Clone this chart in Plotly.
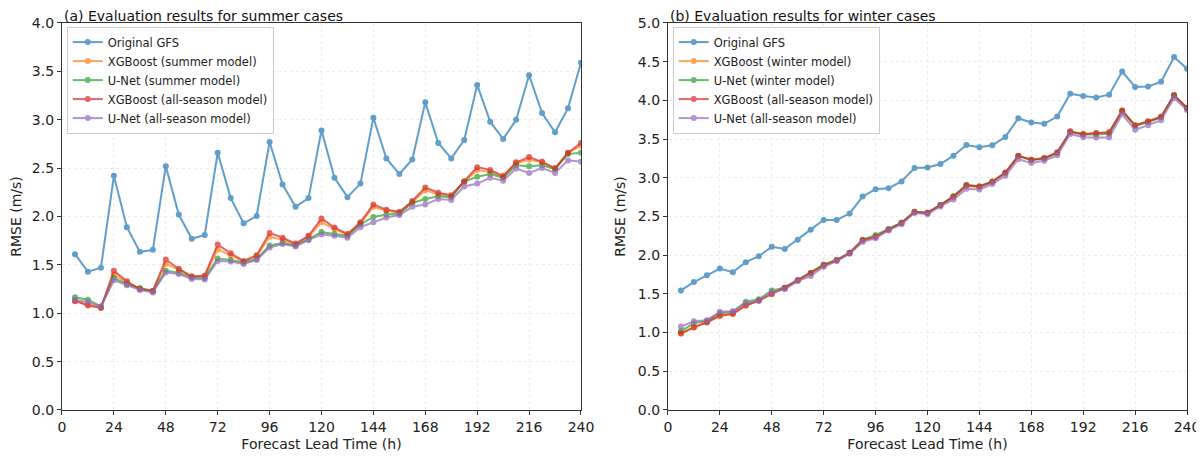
import plotly.graph_objects as go

hours = [6, 12, 18, 24, 30, 36, 42, 48, 54, 60, 66, 72, 78, 84, 90, 96, 102, 108, 114, 120,
         126, 132, 138, 144, 150, 156, 162, 168, 174, 180, 186, 192, 198, 204, 210, 216, 222, 228, 234, 240]
x_ticks = [0, 24, 48, 72, 96, 120, 144, 168, 192, 216, 240]

# ---- summer ----
summer_gfs = [1.61, 1.43, 1.47, 2.42, 1.89, 1.635, 1.655, 2.52, 2.02, 1.77, 1.81, 2.66, 2.19, 1.93, 2.005, 2.77,
              2.33, 2.10, 2.19, 2.89, 2.40, 2.20, 2.34, 3.02, 2.60, 2.44, 2.59, 3.18, 2.76, 2.60, 2.79, 3.36,
              2.98, 2.80, 3.00, 3.46, 3.07, 2.87, 3.12, 3.59]
summer_xgb_season = [1.13, 1.09, 1.06, 1.40, 1.32, 1.25, 1.23, 1.51, 1.45, 1.38, 1.38, 1.66, 1.60, 1.53, 1.59, 1.79,
                     1.76, 1.71, 1.79, 1.94, 1.87, 1.81, 1.93, 2.10, 2.06, 2.04, 2.15, 2.27, 2.23, 2.21, 2.36, 2.48,
                     2.46, 2.41, 2.55, 2.59, 2.56, 2.49, 2.66, 2.73]
summer_unet_season = [1.165, 1.14, 1.07, 1.365, 1.30, 1.26, 1.23, 1.44, 1.42, 1.37, 1.365, 1.565, 1.55, 1.525, 1.56, 1.70,
                      1.725, 1.70, 1.765, 1.84, 1.82, 1.80, 1.92, 1.995, 2.02, 2.03, 2.14, 2.18, 2.21, 2.20, 2.36, 2.41,
                      2.44, 2.40, 2.53, 2.52, 2.53, 2.49, 2.645, 2.66]
summer_xgb_all = [1.125, 1.08, 1.055, 1.44, 1.33, 1.25, 1.23, 1.555, 1.46, 1.38, 1.39, 1.71, 1.62, 1.54, 1.60, 1.83,
                  1.78, 1.72, 1.80, 1.98, 1.885, 1.82, 1.94, 2.125, 2.07, 2.05, 2.16, 2.30, 2.245, 2.22, 2.365, 2.51,
                  2.48, 2.42, 2.56, 2.615, 2.565, 2.50, 2.66, 2.76]
summer_unet_all = [1.14, 1.115, 1.07, 1.34, 1.29, 1.24, 1.215, 1.42, 1.405, 1.355, 1.35, 1.54, 1.535, 1.51, 1.55, 1.68,
                   1.715, 1.69, 1.755, 1.815, 1.80, 1.78, 1.89, 1.94, 1.99, 2.015, 2.10, 2.125, 2.18, 2.17, 2.31, 2.34,
                   2.40, 2.37, 2.495, 2.45, 2.50, 2.45, 2.58, 2.565]

# ---- winter ----
winter_gfs = [1.545, 1.653, 1.74, 1.827, 1.78, 1.91, 1.987, 2.108, 2.08, 2.20, 2.33, 2.455, 2.455, 2.54, 2.757, 2.853,
              2.866, 2.952, 3.126, 3.134, 3.178, 3.286, 3.424, 3.394, 3.42, 3.528, 3.77, 3.714, 3.697, 3.792, 4.087,
              4.056, 4.039, 4.074, 4.372, 4.173, 4.18, 4.24, 4.56, 4.41]
winter_xgb_season = [0.985, 1.065, 1.13, 1.215, 1.24, 1.35, 1.41, 1.50, 1.575, 1.67, 1.765, 1.865, 1.93, 2.025, 2.19, 2.235,
                     2.33, 2.415, 2.555, 2.545, 2.645, 2.75, 2.895, 2.88, 2.945, 3.065, 3.28, 3.23, 3.25, 3.325, 3.595,
                     3.56, 3.575, 3.585, 3.865, 3.675, 3.725, 3.785, 4.06, 3.90]
winter_unet_season = [1.02, 1.12, 1.15, 1.25, 1.27, 1.40, 1.43, 1.545, 1.58, 1.68, 1.77, 1.88, 1.94, 2.03, 2.20, 2.26,
                      2.34, 2.42, 2.56, 2.55, 2.65, 2.76, 2.91, 2.89, 2.95, 3.06, 3.28, 3.23, 3.25, 3.32, 3.59,
                      3.56, 3.56, 3.57, 3.86, 3.67, 3.72, 3.78, 4.07, 3.90]
winter_xgb_all = [0.99, 1.07, 1.134, 1.22, 1.243, 1.35, 1.415, 1.50, 1.58, 1.675, 1.77, 1.87, 1.935, 2.03, 2.195, 2.238,
                  2.333, 2.42, 2.56, 2.55, 2.65, 2.757, 2.90, 2.887, 2.952, 3.07, 3.286, 3.234, 3.255, 3.33, 3.60,
                  3.567, 3.58, 3.59, 3.87, 3.68, 3.73, 3.79, 4.065, 3.905]
winter_unet_all = [1.078, 1.147, 1.16, 1.27, 1.275, 1.38, 1.41, 1.52, 1.56, 1.665, 1.73, 1.85, 1.925, 2.02, 2.17, 2.22,
                   2.32, 2.40, 2.545, 2.53, 2.63, 2.72, 2.857, 2.85, 2.92, 3.025, 3.24, 3.19, 3.22, 3.29, 3.567,
                   3.524, 3.52, 3.52, 3.82, 3.62, 3.68, 3.745, 4.03, 3.875]

colors = ["#1f77b4", "#ff7f0e", "#2ca02c", "#d62728", "#9467bd"]

summer_series = [
    ("Original GFS", summer_gfs),
    ("XGBoost (summer model)", summer_xgb_season),
    ("U-Net (summer model)", summer_unet_season),
    ("XGBoost (all-season model)", summer_xgb_all),
    ("U-Net (all-season model)", summer_unet_all),
]
winter_series = [
    ("Original GFS", winter_gfs),
    ("XGBoost (winter model)", winter_xgb_season),
    ("U-Net (winter model)", winter_unet_season),
    ("XGBoost (all-season model)", winter_xgb_all),
    ("U-Net (all-season model)", winter_unet_all),
]

FONT = "DejaVu Sans"
fig = go.Figure()

for i, (name, vals) in enumerate(summer_series):
    fig.add_trace(go.Scatter(x=hours, y=vals, name=name, mode="lines+markers",
                             line=dict(color=colors[i], width=2), marker=dict(size=6, color=colors[i]),
                             opacity=0.7, xaxis="x", yaxis="y", legend="legend"))
for i, (name, vals) in enumerate(winter_series):
    fig.add_trace(go.Scatter(x=hours, y=vals, name=name, mode="lines+markers",
                             line=dict(color=colors[i], width=2), marker=dict(size=6, color=colors[i]),
                             opacity=0.7, xaxis="x2", yaxis="y2", legend="legend2"))

# the page body has an 8px margin, so the figure is drawn 8px smaller and offset
W, H = 1196, 449
xdom1 = [0.04515, 0.4791]
xdom2 = [0.5518, 0.9858]
ydom = [0.1047, 0.9666]
axis_common = dict(showline=True, linecolor="#333333", linewidth=1.2, mirror=True,
                   ticks="outside", ticklen=4, tickcolor="#333333", tickwidth=1,
                   showgrid=True, gridcolor="#ececec", griddash="dot", gridwidth=1,
                   zeroline=False, automargin=False,
                   tickfont=dict(family=FONT, size=14, color="#222222"))
title_font = dict(family=FONT, size=14, color="#222222")
legend_common = dict(xanchor="left", yanchor="top",
                     bgcolor="rgba(255,255,255,0.8)", bordercolor="#cccccc", borderwidth=1,
                     font=dict(family=FONT, size=11.5, color="#222222"), tracegroupgap=0, itemwidth=30)

fig.update_layout(
    width=W, height=H, margin=dict(l=0, r=0, t=0, b=0),
    paper_bgcolor="white", plot_bgcolor="white",
    font=dict(family=FONT, size=14, color="#222222"),
    xaxis=dict(domain=xdom1, range=[0, 240], tickvals=x_ticks, anchor="y",
               title=dict(text="Forecast Lead Time (h)", standoff=5, font=title_font), **axis_common),
    yaxis=dict(domain=ydom, range=[0, 4.0], dtick=0.5, tickformat=".1f", anchor="x",
               title=dict(text="RMSE (m/s)", standoff=8, font=title_font), **axis_common),
    xaxis2=dict(domain=xdom2, range=[0, 240], tickvals=x_ticks, anchor="y2",
                title=dict(text="Forecast Lead Time (h)", standoff=5, font=title_font), **axis_common),
    yaxis2=dict(domain=ydom, range=[0, 5.0], dtick=0.5, tickformat=".1f", anchor="x2",
                title=dict(text="RMSE (m/s)", standoff=8, font=title_font), **axis_common),
    legend=dict(x=xdom1[0] + 0.004, y=ydom[1] - 0.008, **legend_common),
    legend2=dict(x=xdom2[0] + 0.004, y=ydom[1] - 0.008, **legend_common),
    annotations=[
        dict(text="(a) Evaluation results for summer cases", xref="paper", yref="paper",
             x=xdom1[0] + 0.001, y=ydom[1] - 0.004, xanchor="left", yanchor="bottom", showarrow=False,
             borderpad=0, font=dict(family=FONT, size=14, color="#111111")),
        dict(text="(b) Evaluation results for winter cases", xref="paper", yref="paper",
             x=xdom2[0] + 0.001, y=ydom[1] - 0.004, xanchor="left", yanchor="bottom", showarrow=False,
             borderpad=0, font=dict(family=FONT, size=14, color="#111111")),
    ],
    showlegend=True,
)

fig.write_html("out.html")
